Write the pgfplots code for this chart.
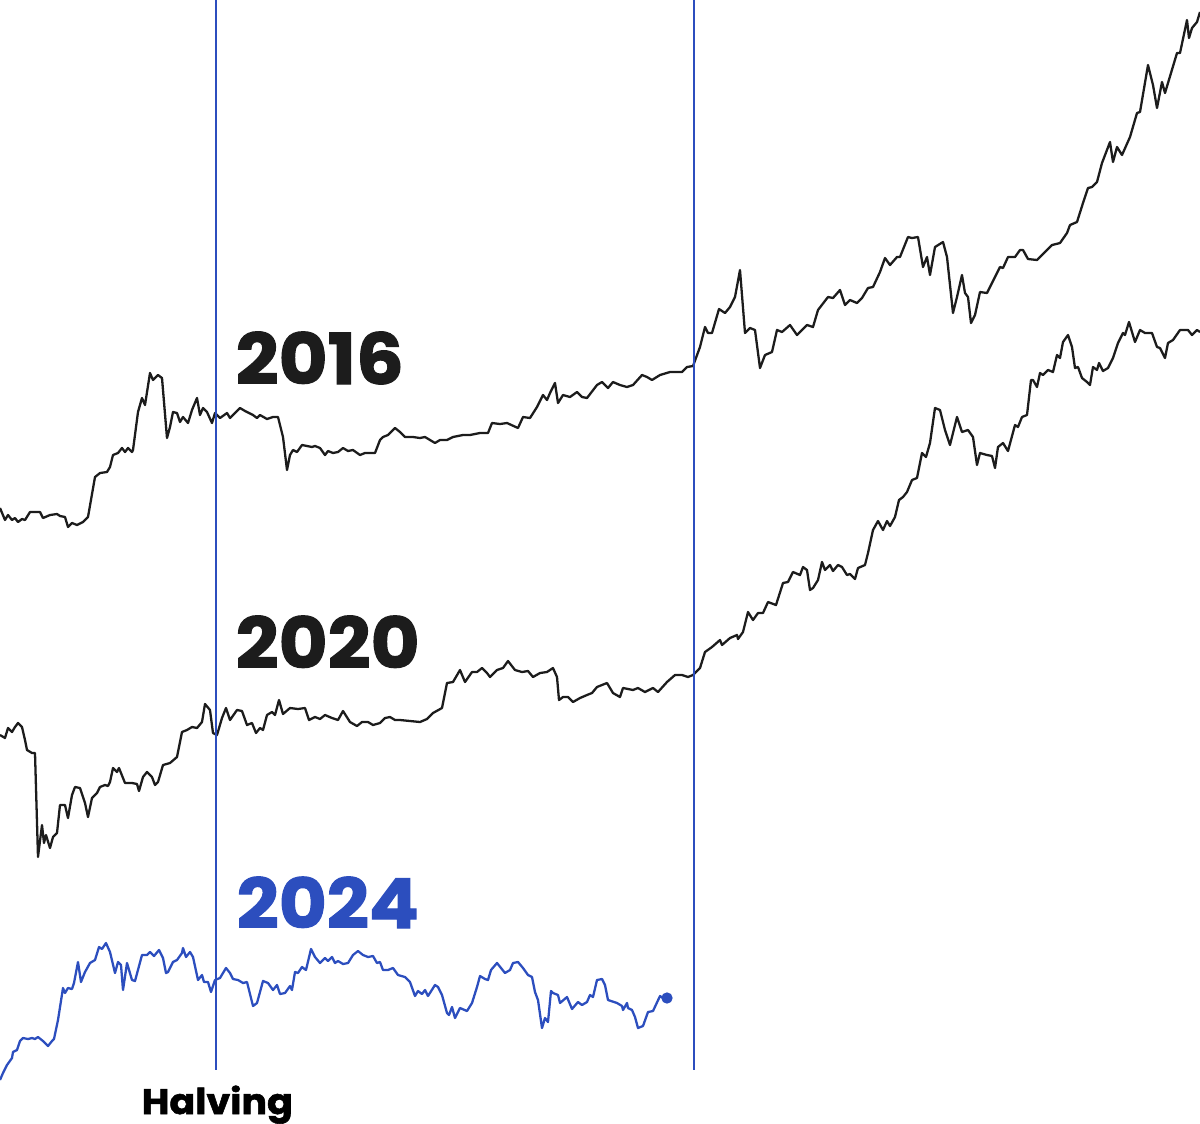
\documentclass[border=0pt]{standalone}
\usepackage{pgfplots}
\pgfplotsset{compat=1.18}
\usepackage{fontspec}
\setmainfont{Poppins}
\newfontfamily\heavy{Poppins}[BoldFeatures={FakeBold=1.6, FakeStretch=1.07}]
\definecolor{halvblue}{RGB}{44,78,190}
\definecolor{ink}{RGB}{28,28,28}

\begin{document}
\begin{tikzpicture}
\begin{axis}[
  width=12cm, height=11.48cm, scale only axis,
  xmin=0, xmax=1200, ymin=0, ymax=1148, y dir=reverse,
  hide axis, clip=true,
  every axis plot/.append style={line join=round},
]
% 2016 cycle
\addplot[ink, line width=0.65pt, mark=none] coordinates {
(0,508)(5,520)(8,515)(12,520)(15,518)(18,522)(22,519)(25,520)(30,512)(40,512)
(43,518)(50,515)(57,514)(60,516)(65,517)(68,527)(72,523)(77,525)(83,522)(88,517)
(95,477)(100,473)(107,472)(110,467)(113,455)(118,453)(122,448)(125,452)(128,448)(132,452)
(133,450)(138,412)(142,398)(145,405)(150,373)(153,380)(158,375)(162,378)(167,438)(170,427)
(173,412)(177,413)(180,422)(183,417)(188,423)(192,410)(197,398)(200,415)(203,408)(207,412)
(212,423)(215,413)(220,418)(227,413)(230,418)(240,408)(245,411)(253,415)(257,418)(260,415)
(267,419)(273,417)(278,417)(283,437)(287,470)(290,455)(293,450)(297,452)(302,445)(307,446)
(312,447)(315,446)(320,448)(325,455)(328,451)(333,453)(338,452)(343,448)(348,451)(353,450)
(360,455)(365,453)(370,453)(375,453)(380,440)(383,437)(388,435)(395,428)(400,432)
(405,437)(413,437)(420,438)(425,437)(435,443)(440,440)(447,440)(453,437)(463,435)(470,435)
(480,433)(488,433)(492,423)(500,424)(507,423)(518,428)(523,417)(530,418)(537,407)(543,395)
(547,400)(550,393)(555,383)(558,403)(563,395)(570,397)(577,392)(582,397)(587,398)(597,385)
(602,382)(608,388)(613,382)(620,385)(627,387)(633,385)(642,375)(647,377)(652,380)(660,375)
(670,372)(682,372)(687,367)(693,366)(700,347)(705,327)(708,333)(712,333)(719,309)(725,313)
(730,307)(735,297)(740,270)(745,333)(750,328)(755,330)(760,368)(765,355)(772,352)(777,330)
(782,332)(790,325)(797,335)(800,332)
(807,325)(813,327)(818,310)(828,297)(833,298)(840,290)(845,305)(850,300)(857,303)(862,298)
(868,288)(873,287)(880,272)(885,258)(890,265)(897,257)(900,257)(908,237)(912,238)(918,237)
(923,267)(927,257)(930,275)(935,247)(943,242)(947,257)(953,313)(957,297)(962,275)(965,293)
(968,297)(971,323)(975,315)(980,292)(987,293)(992,283)(1000,267)(1003,268)(1008,257)(1015,257)
(1020,250)(1023,250)(1028,259)(1037,260)(1047,250)(1052,245)(1060,243)(1067,233)(1070,225)(1077,222)
(1083,203)(1088,188)(1092,187)(1097,182)(1102,163)(1110,142)(1113,162)(1117,147)(1122,155)(1130,137)
(1137,113)(1140,112)(1148,65)(1153,85)(1157,108)(1162,82)(1165,93)(1177,53)(1180,53)(1187,20)
(1189,38)(1192,28)(1197,22)(1200,12)
};
% 2020 cycle
\addplot[ink, line width=0.65pt, mark=none] coordinates {
(0,735)(5,738)(8,728)(12,732)(15,727)(18,723)(22,727)(25,740)(27,750)(32,753)
(35,753)(38,857)(42,825)(44,843)(46,835)(50,848)(53,837)(57,833)(60,805)(65,805)
(68,818)(72,795)(75,787)(80,788)(85,803)(88,817)(92,798)(97,793)(100,787)(105,785)
(108,786)(110,782)(113,768)(117,772)(119,768)(125,783)(132,783)(137,784)(139,791)(143,777)
(147,772)(152,777)(155,785)(158,782)(163,765)(170,763)(177,757)(182,732)(187,730)(192,727)
(197,728)(202,722)(205,704)(210,710)(213,733)(217,735)(222,718)(226,708)(230,720)(237,710)
(242,711)(247,725)(252,723)(256,733)(260,728)(263,730)(267,715)(272,712)(275,715)(279,700)
(283,714)(290,708)(298,709)(305,708)(309,720)(315,717)(320,719)(325,715)(332,718)(338,720)
(343,711)(350,722)(357,726)(362,722)(368,722)(373,725)(380,723)(385,718)(390,717)(395,720)
(400,720)(410,721)(420,722)(427,719)(433,713)(442,708)(447,683)(453,682)(460,670)(465,682)
(472,672)(477,672)(482,668)(487,673)(490,677)(497,670)(503,668)(508,661)(515,670)(522,672)
(528,671)(533,677)(540,673)(547,672)(553,668)(557,677)(559,700)(563,697)(568,697)(573,702)
(580,698)(587,695)(592,693)(597,687)(607,683)(613,693)(620,697)(623,688)(633,690)(638,688)
(645,692)(653,688)(658,692)(667,682)(675,675)(682,675)(688,677)(693,675)(700,668)(705,652)
(712,647)(720,640)(722,645)(730,638)(737,635)(738,639)(743,632)(748,612)(753,620)(758,613)
(763,613)(768,602)(776,605)(783,583)(788,582)(793,572)(800,575)(803,567)(807,570)(810,590)
(813,588)(818,580)(822,562)(825,570)(830,565)(833,571)(838,565)(842,567)(847,575)(850,574)
(855,579)(858,568)(865,565)(868,553)(873,530)(878,521)(883,530)(887,521)(890,526)(895,517)
(899,500)(903,497)(907,492)(912,480)(917,478)(922,453)(926,457)(930,443)(935,408)(940,410)
(945,430)(950,445)(957,417)(962,432)(968,430)(973,437)(977,465)(980,453)(987,455)(992,456)
(995,468)(998,447)(1003,443)(1008,451)(1015,425)(1018,427)(1022,417)(1027,415)(1031,380)(1033,380)
(1037,387)(1040,373)(1043,375)(1048,370)(1053,372)(1057,355)(1060,358)(1063,342)(1068,335)(1072,347)
(1075,368)(1078,367)(1082,378)(1087,382)(1090,385)(1093,367)(1097,370)(1099,363)(1103,371)(1108,368)
(1113,358)(1118,343)(1123,333)(1125,335)(1129,322)(1135,342)(1140,330)(1145,333)(1152,333)(1157,347)
(1160,348)(1165,358)(1168,343)(1173,340)(1180,330)(1188,330)(1192,335)(1197,330)(1200,332)
};
% 2024 cycle
\addplot[halvblue, line width=0.65pt, mark=none] coordinates {
(0,1080)(3,1073)(7,1065)(12,1058)(13,1052)(17,1050)(20,1041)(23,1038)(28,1039)(32,1038)
(35,1039)(38,1037)(43,1041)(48,1046)(52,1041)(54,1039)(58,1020)(63,988)(65,993)(68,988)
(72,989)(74,983)(78,962)(81,982)(85,972)(90,963)(95,960)(99,947)(102,949)(106,943)
(110,952)(115,973)(118,962)(121,965)(123,990)(127,963)(132,980)(135,981)(142,955)(147,955)
(150,952)(154,956)(159,950)(163,958)(166,973)(168,972)(173,962)(177,960)(182,953)(183,948)
(186,957)(190,952)(193,957)(198,980)(202,975)(204,982)(208,982)(211,992)(215,980)(220,978)
(226,968)(230,973)(233,979)(238,980)(243,983)(247,982)(253,1006)(257,1003)(263,981)(268,983)
(273,990)(277,985)(280,994)(285,993)(290,986)(292,990)(295,972)(298,973)(302,967)(306,970)
(311,949)(315,957)(320,963)(325,958)(328,961)(332,957)(335,963)(338,961)(343,964)(348,963)
(353,955)(358,951)(363,955)(368,957)(373,956)(377,963)(380,962)(383,970)(388,970)(393,968)
(398,975)(405,977)(410,982)(415,996)(418,991)(422,994)(425,990)(428,996)(435,985)(438,987)
(442,995)(447,1013)(449,1015)(452,1007)(455,1018)(460,1008)(467,1011)(472,1003)(477,987)(480,976)
(485,979)(488,980)(491,970)(497,963)(505,973)(510,970)(513,963)(518,962)(523,968)(528,975)
(532,977)(535,992)(538,1000)(542,1028)(545,1018)(548,1022)(551,991)(553,993)(558,995)(560,1003)
(567,997)(572,1009)(578,1002)(582,1005)(587,1002)(590,995)(593,997)(597,980)(602,979)(605,985)
(608,1000)(617,1003)(622,1006)(623,1010)(627,1003)(628,1008)(632,1010)(635,1017)(638,1028)(643,1026)
(648,1012)(653,1011)(660,996)(663,998)(667,998)
};
\addplot[halvblue, only marks, mark=*, mark size=1.4pt] coordinates {(667,998)};
% halving markers
\addplot[halvblue, line width=0.85pt, mark=none] coordinates {(216,0)(216,1070)};
\addplot[halvblue, line width=0.85pt, mark=none] coordinates {(694,0)(694,1070)};
\node[anchor=base west, inner sep=0pt, text=ink, font=\heavy\fontsize{20}{20}\selectfont\bfseries] at (axis cs:235,384) {2016};
\node[anchor=base west, inner sep=0pt, text=ink, font=\heavy\fontsize{20}{20}\selectfont\bfseries] at (axis cs:235,668) {2020};
\node[anchor=base west, inner sep=0pt, text=halvblue, font=\heavy\fontsize{19.6}{20}\selectfont\bfseries] at (axis cs:236,928) {2024};
\node[anchor=base west, inner sep=0pt, text=black, font=\heavy\fontsize{10.1}{12}\selectfont\bfseries] at (axis cs:141,1114) {Halving};
\end{axis}
\end{tikzpicture}
\end{document}
